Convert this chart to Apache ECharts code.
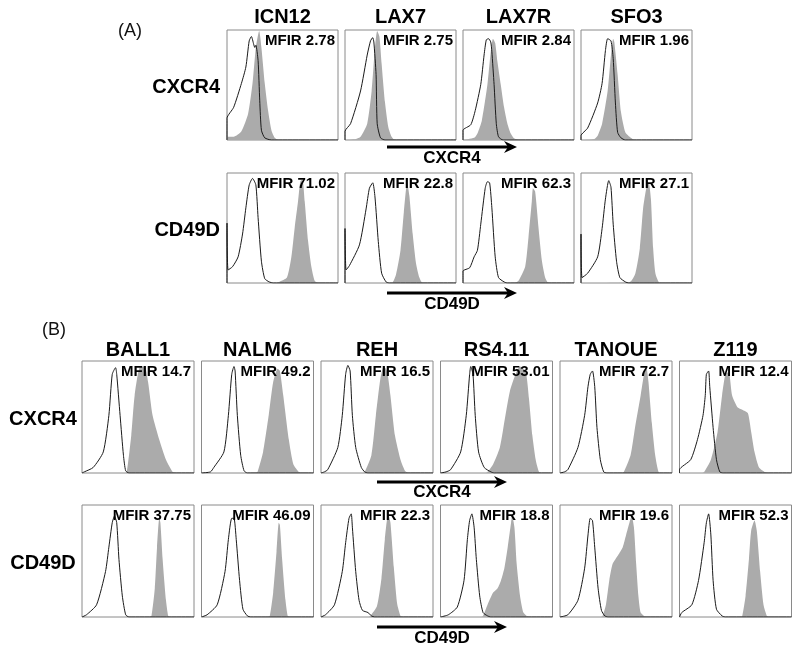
<!DOCTYPE html>
<html>
<head>
<meta charset="utf-8">
<title>CXCR4 / CD49D histograms</title>
<script src="https://cdn.jsdelivr.net/npm/echarts@6/dist/echarts.min.js"></script>
<style>
  html, body { margin: 0; padding: 0; background: #fff; }
  #chart { width: 800px; height: 649px; }
</style>
</head>
<body>
<div id="chart"></div>
<script>
// cell lines and markers
const aCells = ['ICN12', 'LAX7', 'LAX7R', 'SFO3']
const bCells = ['BALL1', 'NALM6', 'REH', 'RS4.11', 'TANOUE', 'Z119']
const markers = ['CXCR4', 'CD49D']

// MFIR values per row
const aMfirCxcr4 = ['2.78', '2.75', '2.84', '1.96']
const aMfirCd49d = ['71.02', '22.8', '62.3', '27.1']
const bMfirCxcr4 = ['14.7', '49.2', '16.5', '53.01', '72.7', '12.4']
const bMfirCd49d = ['37.75', '46.09', '22.3', '18.8', '19.6', '52.3']

// histograms: [channel (0-100), relative count]; iso = open line, stain = grey fill
// panel A, CXCR4
const icn12CxcrIso = [[0,0],[0,20],[6,30],[13,52],[17,67],[20,91],[22,95],[24,88],[25,85],[26,87],[28,73],[29.5,36],[31,9],[34,2],[40,0],[100,0]]
const icn12CxcrStain = [[0,3],[6,3],[13,8],[19,24],[23,52],[26,85],[29,100],[31,85],[34,52],[37,27],[40,9],[43,2],[46,0],[100,0]]
const lax7CxcrIso = [[0,0],[0,8],[5,15],[14,45],[20,78],[23,91],[25,94],[26,90],[28,60],[29,15],[32,2],[36,0],[100,0]]
const lax7CxcrStain = [[0,0],[10,1],[14,3],[20,15],[24,45],[27,85],[29,100],[31,95],[33,70],[36,35],[39,12],[42,3],[45,0],[100,0]]
const lax7rCxcrIso = [[0,0],[0,9],[7,14],[11,27],[16,51],[19,78],[21,92],[23,93],[25,90],[26,81],[28,51],[30,15],[32,3],[36,0],[100,0]]
const lax7rCxcrStain = [[0,0],[10,2],[13,6],[17,18],[22,51],[25,81],[27,93],[29,89],[31,72],[34,51],[37,30],[40,15],[43,6],[46,1.5],[50,0],[100,0]]
const sfo3CxcrIso = [[0,0],[0,4],[6,11],[15,34],[19,52],[22,82],[24,93],[27,91],[29,75],[31,34],[33,7],[36,2],[40,0],[100,0]]
const sfo3CxcrStain = [[0,0],[12,1],[15,4],[19,15],[24,45],[27,78],[29,93],[30,90],[33,60],[36,26],[40,7],[45,2],[48,0],[100,0]]
// panel A, CD49D
const icn12CdIso = [[0,0],[0,55],[1,12],[5,15],[10,24],[14,45],[17,69],[20,90],[23,96],[26,90],[28,60],[31,20],[34,4],[38,1],[42,0],[100,0]]
const icn12CdStain = [[0,0],[44,0],[47,1],[54,5],[58,24],[61,51],[64,75],[66,93],[68,95],[70,75],[73,39],[76,15],[79,2],[82,0],[100,0]]
const lax7CdIso = [[0,0],[0,50],[1,12],[4,16],[13,35],[19,68],[22,87],[25,92],[27,79],[30,38],[33,9],[37,1],[40,0],[100,0]]
const lax7CdStain = [[0,0],[42,0],[46,8],[50,30],[53,65],[56,92],[58,80],[61,45],[64,18],[67,5],[70,0],[100,0]]
const lax7rCdIso = [[0,0],[0,11],[6,14],[10,24],[13,30],[16,54],[20,87],[22,93],[24,92],[26,69],[29,24],[32,5],[37,1],[40,0],[100,0]]
const lax7rCdStain = [[0,0],[47,0],[50,2],[56,15],[59,42],[62,75],[63,87],[65,84],[68,51],[71,21],[74,5],[76,1],[79,0],[100,0]]
const sfo3CdIso = [[0,0],[0,45],[1,5],[6,9],[15,24],[19,50],[22,77],[25,94],[27,88],[29,54],[32,20],[35,5],[40,1],[43,0],[100,0]]
const sfo3CdStain = [[0,0],[44,1],[49,9],[53,32],[56,69],[59,88],[61,92],[63,77],[65,32],[67,9],[70,1],[73,0],[100,0]]
// panel B, CXCR4
const ball1CxcrIso = [[0,0],[2,1],[10,5],[19,19],[24,52],[27,89],[30,95],[31,89],[34,52],[37,16],[39,2],[42,0],[100,0]]
const ball1CxcrStain = [[0,0],[38,0],[40,1],[44,34],[47,70],[52,96],[56,96],[59,82],[63,52],[69,30],[75,12],[81,1],[84,0],[100,0]]
const nalm6CxcrIso = [[0,0],[8,1],[11,5],[20,19],[24,52],[27,89],[29,96],[30,92],[32,52],[35,16],[38,2],[41,0],[100,0]]
const nalm6CxcrStain = [[0,0],[48,0],[50,1],[55,19],[60,52],[64,82],[68,94],[70,92],[73,70],[78,30],[82,8],[87,1],[90,0],[100,0]]
const rehCxcrIso = [[0,0],[3,1],[6,3],[15,23],[19,52],[22,89],[24,97],[26,92],[28,52],[31,23],[36,5],[39,1],[42,0],[100,0]]
const rehCxcrStain = [[0,0],[37,0],[39,1],[45,16],[49,52],[53,85],[56,96],[59,92],[62,70],[66,34],[71,12],[75,2],[78,0],[100,0]]
const rs411CxcrIso = [[0,0],[5,1],[9,3],[18,19],[23,52],[26,89],[27,96],[29,89],[31,52],[34,19],[39,5],[45,1],[48,0],[100,0]]
const rs411CxcrStain = [[0,0],[40,0],[42,1],[47,8],[53,23],[58,52],[62,74],[67,89],[71,96],[76,92],[79,67],[82,34],[85,12],[88,1],[91,0],[100,0]]
const tanoueCxcrIso = [[0,0],[4,1],[7,3],[16,23],[22,52],[25,78],[27,89],[29,92],[31,78],[33,41],[36,12],[39,1],[42,0],[100,0]]
const tanoueCxcrStain = [[0,0],[55,0],[57,1],[63,16],[67,41],[72,70],[75,89],[77,96],[79,82],[82,45],[85,16],[88,1],[91,0],[100,0]]
const z119CxcrIso = [[0,0],[0,3],[10,12],[16,30],[21,52],[23,70],[24,89],[26,92],[27,78],[30,41],[33,12],[36,1],[39,0],[100,0]]
const z119CxcrStain = [[0,0],[20,0],[22,1],[28,12],[34,37],[38,70],[41,89],[44,91],[47,70],[52,59],[56,57],[61,54],[64,37],[67,19],[71,5],[76,1],[79,0],[100,0]]
// panel B, CD49D
const ball1CdIso = [[0,0],[4,2],[13,11],[21,41],[24,63],[27,85],[29,91],[31,85],[33,52],[36,19],[39,2],[42,0],[100,0]]
const ball1CdStain = [[0,0],[60,0],[62,1],[65,26],[67,63],[69,89],[70,85],[72,52],[75,15],[77,1],[79,0],[100,0]]
const nalm6CdIso = [[0,0],[5,2],[14,11],[21,41],[24,70],[27,89],[29,89],[31,70],[34,33],[37,7],[41,1],[44,0],[100,0]]
const nalm6CdStain = [[0,0],[59,0],[61,1],[64,22],[67,59],[69,85],[70,83],[72,52],[75,15],[77,1],[79,0],[100,0]]
const rehCdIso = [[0,0],[4,2],[12,11],[19,41],[22,67],[25,89],[27,93],[28,81],[31,41],[34,15],[37,6],[42,4],[45,1],[48,0],[100,0]]
const rehCdStain = [[0,0],[42,0],[44,1],[50,10],[54,35],[57,70],[60,93],[62,85],[65,45],[68,12],[71,1],[73,0],[100,0]]
const rs411CdIso = [[0,0],[7,2],[15,9],[21,33],[24,70],[26,87],[28,93],[30,81],[32,52],[35,19],[38,4],[42,1],[45,0],[100,0]]
const rs411CdStain = [[0,0],[36,0],[38,1],[42,11],[47,22],[51,26],[54,33],[57,44],[60,63],[63,85],[64,91],[66,81],[68,48],[71,19],[74,4],[77,1],[79,0],[100,0]]
const tanoueCdIso = [[0,0],[7,2],[16,15],[22,44],[25,74],[27,89],[29,87],[31,63],[34,26],[37,6],[40,1],[43,0],[100,0]]
const tanoueCdStain = [[0,0],[36,0],[38,1],[41,11],[44,33],[47,48],[52,56],[56,63],[59,74],[62,85],[64,91],[66,81],[68,48],[70,19],[72,4],[75,1],[77,0],[100,0]]
const z119CdIso = [[0,0],[2,4],[11,11],[17,33],[22,67],[24,85],[26,93],[28,74],[30,33],[33,7],[38,1],[41,0],[100,0]]
const z119CdStain = [[0,0],[54,0],[56,1],[59,19],[62,52],[64,78],[67,87],[69,78],[72,41],[75,11],[78,1],[80,0],[100,0]]

const aIso = [
  [icn12CxcrIso, lax7CxcrIso, lax7rCxcrIso, sfo3CxcrIso],
  [icn12CdIso, lax7CdIso, lax7rCdIso, sfo3CdIso]
]
const aStain = [
  [icn12CxcrStain, lax7CxcrStain, lax7rCxcrStain, sfo3CxcrStain],
  [icn12CdStain, lax7CdStain, lax7rCdStain, sfo3CdStain]
]
const bIso = [
  [ball1CxcrIso, nalm6CxcrIso, rehCxcrIso, rs411CxcrIso, tanoueCxcrIso, z119CxcrIso],
  [ball1CdIso, nalm6CdIso, rehCdIso, rs411CdIso, tanoueCdIso, z119CdIso]
]
const bStain = [
  [ball1CxcrStain, nalm6CxcrStain, rehCxcrStain, rs411CxcrStain, tanoueCxcrStain, z119CxcrStain],
  [ball1CdStain, nalm6CdStain, rehCdStain, rs411CdStain, tanoueCdStain, z119CdStain]
]

// layout (px)
const layoutA = { left: 227, step: 118, w: 111, h: 110, tops: [30, 173], titleY: 17, labelRight: 220, tag: [118, 31], arrows: [[387, 517, 147, 158], [387, 517, 293, 304]] }
const layoutB = { left: 82, step: 119.5, w: 112, h: 112, tops: [361, 505], titleY: 350, labelCenter: 43, tag: [42, 330], arrows: [[377, 507, 482, 492], [377, 507, 627, 638]] }

const FONT = '"Liberation Sans", Arial, sans-serif'
const grids = []
const xAxes = []
const yAxes = []
const series = []
const graphics = []

function addPanel (lay, cells, iso, stain, mfir, tag, rowLabelAlign) {
  graphics.push({ type: 'text', z: 100, style: { text: tag, x: lay.tag[0], y: lay.tag[1], font: '18px ' + FONT, fill: '#111', verticalAlign: 'middle', textVerticalAlign: 'middle' } })
  cells.forEach((name, c) => {
    const x = lay.left + c * lay.step
    graphics.push({ type: 'text', z: 100, style: { text: name, x: x + lay.w / 2, y: lay.titleY, font: 'bold 20px ' + FONT, fill: '#000', align: 'center', textAlign: 'center', verticalAlign: 'middle', textVerticalAlign: 'middle' } })
  })
  markers.forEach((m, r) => {
    const top = lay.tops[r]
    const lx = rowLabelAlign === 'right' ? lay.labelRight : lay.labelCenter
    graphics.push({ type: 'text', z: 100, style: { text: m, x: lx, y: top + lay.h / 2 + 2, font: 'bold 20px ' + FONT, fill: '#000', align: rowLabelAlign, textAlign: rowLabelAlign, verticalAlign: 'middle', textVerticalAlign: 'middle' } })
    cells.forEach((name, c) => {
      const left = lay.left + c * lay.step
      const idx = grids.length
      grids.push({ left: left, top: top, width: lay.w, height: lay.h, show: true, borderColor: '#8a8a8a', borderWidth: 1, backgroundColor: '#fff', containLabel: false })
      xAxes.push({ gridIndex: idx, type: 'value', min: 0, max: 100, show: false })
      yAxes.push({ gridIndex: idx, type: 'value', min: 0, max: 101, show: false })
      series.push({ type: 'line', xAxisIndex: idx, yAxisIndex: idx, data: stain[r][c], showSymbol: false, smooth: 0.2, lineStyle: { width: 0 }, areaStyle: { color: '#ababab', opacity: 1 }, silent: true, z: 2 })
      series.push({ type: 'line', xAxisIndex: idx, yAxisIndex: idx, data: iso[r][c], showSymbol: false, smooth: 0.2, lineStyle: { color: '#1a1a1a', width: 1 }, silent: true, z: 3 })
      graphics.push({ type: 'text', z: 100, style: { text: 'MFIR ' + mfir[r][c], x: left + lay.w - 3, y: top + 3, font: 'bold 15px ' + FONT, fill: '#000', align: 'right', textAlign: 'right', verticalAlign: 'top', textVerticalAlign: 'top' } })
    })
    // axis arrow below the row
    const [x1, x2, ay, ty] = lay.arrows[r]
    graphics.push({ type: 'line', z: 100, shape: { x1: x1, y1: ay, x2: x2 - 8, y2: ay }, style: { stroke: '#000', lineWidth: 3 } })
    graphics.push({ type: 'polygon', z: 100, shape: { points: [[x2 - 13, ay - 6], [x2, ay], [x2 - 13, ay + 6], [x2 - 9, ay]] }, style: { fill: '#000' } })
    graphics.push({ type: 'text', z: 100, style: { text: m, x: (x1 + x2) / 2, y: ty, font: 'bold 17px ' + FONT, fill: '#000', align: 'center', textAlign: 'center', verticalAlign: 'middle', textVerticalAlign: 'middle' } })
  })
}

addPanel(layoutA, aCells, aIso, aStain, [aMfirCxcr4, aMfirCd49d], '(A)', 'right')
addPanel(layoutB, bCells, bIso, bStain, [bMfirCxcr4, bMfirCd49d], '(B)', 'center')

const chart = echarts.init(document.getElementById('chart'))
chart.setOption({
  animation: false,
  backgroundColor: '#fff',
  grid: grids,
  xAxis: xAxes,
  yAxis: yAxes,
  series: series,
  graphic: { elements: graphics }
})
</script>
</body>
</html>
